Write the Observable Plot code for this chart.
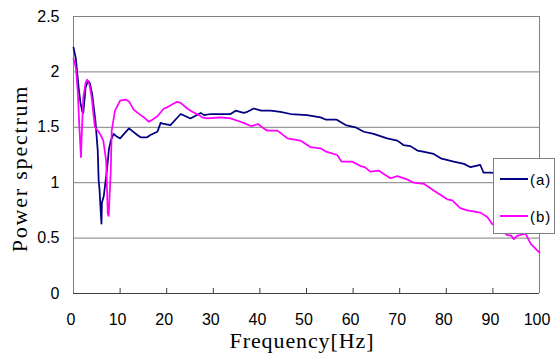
<!DOCTYPE html>
<html>
<head>
<meta charset="utf-8">
<script src="https://cdn.jsdelivr.net/npm/d3@7"></script>
<script src="https://cdn.jsdelivr.net/npm/@observablehq/plot@0.6"></script>
<style>
  html, body { margin: 0; padding: 0; background: #fff; }
  #wrap { position: relative; width: 555px; height: 359px; overflow: hidden; }
  #legend { position: absolute; left: 493px; top: 158px; width: 62px; height: 76px;
    box-sizing: border-box; border: 1px solid #808080; background: #fff;
    font-family: "Liberation Sans", Arial, sans-serif; font-size: 15px; color: #000; }
  .item { position: absolute; left: 6px; height: 18px; display: flex; align-items: center; }
  .sw { width: 28px; height: 0; border-top: 2px solid; margin-right: 2px; }
  .lab { letter-spacing: 1px; }
</style>
</head>
<body>
<div id="wrap"></div>
<script>
// ---- data ----
const seriesNames = ["(a)", "(b)"];
const seriesColors = ["#000080", "#FF00FF"];

const freqA = [0, 0.5, 1.1, 1.5, 1.9, 2.1, 2.6, 3.1, 3.5, 4.0, 4.7, 5.2, 5.4, 5.6, 5.8, 6.0, 6.1, 6.5, 6.9, 7.2, 7.6, 8.0, 8.6, 9.2, 10.0,
  11.9, 13.7, 14.4, 15.8, 16.5, 18.0, 18.7, 19.4, 20.8, 23.0, 25.1, 27.3, 28.0, 29.5, 31.5, 33.7, 34.8, 36.5, 37.3, 38.7, 40.3,
  42.3, 44.4, 46.6, 50.1, 53.0, 54.1, 56.4, 58.4, 60.5, 62.3, 64.4, 67.3, 69.5, 70.8, 72.3, 73.8, 75.0, 77.3, 78.8, 81.6, 83.8,
  85.2, 87.3, 88.0, 89.5, 92, 95, 100];
const powerA = [2.22, 2.12, 1.86, 1.72, 1.64, 1.63, 1.86, 1.92, 1.9, 1.80, 1.56, 1.29, 1.02, 0.93, 0.77, 0.63, 0.82, 0.88, 1.02, 1.12, 1.30, 1.38, 1.44, 1.42, 1.40,
  1.49, 1.43, 1.41, 1.41, 1.43, 1.46, 1.54, 1.53, 1.52, 1.62, 1.58, 1.63, 1.61, 1.62, 1.62, 1.62, 1.65, 1.63, 1.64, 1.67, 1.65,
  1.65, 1.64, 1.62, 1.61, 1.59, 1.57, 1.57, 1.52, 1.50, 1.46, 1.44, 1.40, 1.38, 1.34, 1.33, 1.29, 1.28, 1.26, 1.22, 1.19, 1.17,
  1.14, 1.16, 1.09, 1.09, 1.08, 1.06, 1.02];

const freqB = [0, 0.5, 0.9, 1.3, 1.6, 1.8, 2.1, 2.6, 2.9, 3.4, 3.9, 4.6, 5.2, 5.7, 6.4, 7.0, 7.2, 7.35, 7.55, 7.8, 8.0, 8.2, 8.9, 10.0,
  11.2, 12.0, 12.9, 14.4, 15.1, 16.2, 17.0, 18.0, 19.4, 20.1, 22.2, 23.0, 24.4, 25.5, 26.9, 27.6, 28.7, 31.5, 33.7, 35.8, 36.5,
  38.2, 39.6, 40.8, 41.6, 43.7, 44.4, 45.9, 48.7, 50.9, 53.0, 54.2, 56.6, 57.5, 59.8, 61.6, 62.5, 63.7, 65.5, 66.5, 68.0, 69.5,
  71.6, 73.0, 75.2, 77.3, 80.2, 81.3, 83.0, 84.5, 87.3, 88.8, 89.8, 91.5, 93.0, 94.0, 94.5, 95.2, 97.0, 98.1, 99.5, 100];
const powerB = [2.12, 2.04, 1.83, 1.47, 1.23, 1.47, 1.77, 1.90, 1.93, 1.89, 1.77, 1.50, 1.47, 1.44, 1.38, 1.20, 0.93, 0.72, 0.70, 0.93, 1.11, 1.47, 1.65, 1.74,
  1.75, 1.73, 1.66, 1.61, 1.59, 1.55, 1.57, 1.60, 1.67, 1.68, 1.73, 1.72, 1.67, 1.64, 1.61, 1.59, 1.58, 1.59, 1.58, 1.55, 1.54,
  1.51, 1.53, 1.49, 1.47, 1.47, 1.45, 1.40, 1.38, 1.32, 1.31, 1.28, 1.25, 1.19, 1.19, 1.15, 1.14, 1.10, 1.11, 1.08, 1.04, 1.06,
  1.03, 1.00, 0.99, 0.93, 0.85, 0.84, 0.77, 0.75, 0.73, 0.69, 0.63, 0.58, 0.53, 0.52, 0.49, 0.52, 0.54, 0.45, 0.39, 0.37];

const xTicks = [0, 10, 20, 30, 40, 50, 60, 70, 80, 90, 100];
const yTicks = [0, 0.5, 1, 1.5, 2, 2.5];
const xInnerTicks = [10, 20, 30, 40, 50, 60, 70, 80, 90];
const gridY = [0.5, 1, 1.5, 2, 2.5];
const xTitle = "Frequency[Hz]";
const yTitle = "Power spectrum";

// ---- build table ----
const rows = [
  ...freqA.map((f, i) => ({f, p: powerA[i], s: seriesNames[0]})),
  ...freqB.map((f, i) => ({f, p: powerB[i], s: seriesNames[1]}))
];

const serif = "'Liberation Serif', 'Times New Roman', serif";
const sans = "'Liberation Sans', Arial, sans-serif";
const mL = 73, mR = 16, mT = 16, mB = 66;

const chart = Plot.plot({
  width: 555,
  height: 359,
  marginLeft: mL,
  marginRight: mR,
  marginTop: mT,
  marginBottom: mB,
  style: {background: "#fff", fontFamily: sans, fontSize: "16px", color: "#000"},
  x: {domain: [0, 100]},
  y: {domain: [0, 2.5]},
  color: {domain: seriesNames, range: seriesColors},
  marks: [
    Plot.ruleY(gridY, {stroke: "#808080", strokeWidth: 1}),
    Plot.ruleX([100], {stroke: "#808080", strokeWidth: 1}),
    Plot.ruleX([0], {stroke: "#808080", strokeWidth: 1}),
    Plot.lineY(rows, {x: "f", y: "p", stroke: "s", z: "s", strokeWidth: 1.75, curve: "linear"}),
    Plot.ruleY([0], {stroke: "#404040", strokeWidth: 1}),
    Plot.ruleX(xInnerTicks, {y1: 0, y2: 0, insetTop: -5, stroke: "#404040", strokeWidth: 1}),
    Plot.axisX(xTicks, {tickSize: 0, tickPadding: 20, label: null, fontSize: 16, dx: -2.5}),
    Plot.axisY(yTicks, {tickSize: 0, tickPadding: 14, label: null, fontSize: 16, tickFormat: d => String(d)}),
    Plot.text([xTitle], {text: d => d, frameAnchor: "bottom", dx: -4.5, dy: 54, fontSize: 22, fontFamily: serif, fill: "#000"})
  ]
});

d3.select(chart).selectAll("text")
  .filter(function () { return this.textContent === xTitle; })
  .style("letter-spacing", "0.9px");

// y-axis title, positioned from the y scale's range
const yr = chart.scale("y").range;
const yMid = (yr[0] + yr[1]) / 2;
d3.select(chart).append("text")
  .attr("transform", `translate(${mL - 53},${yMid + 14}) rotate(-90)`)
  .attr("text-anchor", "middle")
  .attr("dy", "0.32em")
  .attr("font-family", serif)
  .attr("font-size", 22)
  .attr("fill", "#000")
  .style("letter-spacing", "1.8px")
  .text(yTitle);

const wrap = document.getElementById("wrap");
wrap.appendChild(chart);

// legend
const legend = document.createElement("div");
legend.id = "legend";
seriesNames.forEach((name, i) => {
  const item = document.createElement("div");
  item.className = "item";
  item.style.top = (i === 0 ? 11 : 48) + "px";
  const sw = document.createElement("div");
  sw.className = "sw";
  sw.style.borderTopColor = seriesColors[i];
  const lab = document.createElement("span");
  lab.className = "lab";
  lab.textContent = name;
  item.appendChild(sw);
  item.appendChild(lab);
  legend.appendChild(item);
});
wrap.appendChild(legend);
</script>
</body>
</html>
